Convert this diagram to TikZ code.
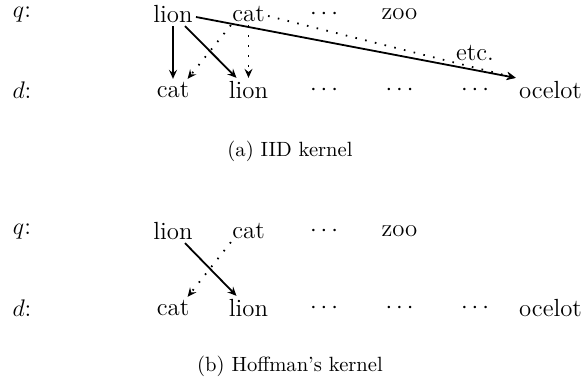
\documentclass[tikz,border=0pt]{standalone}
\usetikzlibrary{arrows.meta}
\begin{document}
\begin{tikzpicture}[x=0.5pt,y=-0.5pt,
  word/.style={font=\fontsize{12.4}{15}\selectfont, inner sep=1.5pt},
  captext/.style={font=\fontsize{10.3}{12}\selectfont, inner sep=1.5pt},
  tipstyle/.style={-{Stealth[length=4.5pt,width=4pt,inset=1.6pt]}},
  solidarrow/.style={line width=0.9pt,tipstyle},
  dotarrow/.style={line width=0.9pt,dash pattern=on 0.8pt off 4.2pt,tipstyle}]
\useasboundingbox (0,0) rectangle (587,383);
% ---------- (a) IID kernel ----------
\node[word] (q1) at (22,14) {$q$:};
\node[word] (d1) at (22,90) {$d$:};
\node[word] (lq1) at (173,14) {lion};
\node[word] (cq1) at (248.5,14) {cat};
\node[word] (eq1) at (324,14) {$\cdots$};
\node[word] (zq1) at (399.5,14) {zoo};
\node[word] (cd1) at (173,90) {cat};
\node[word] (ld1) at (248.5,90) {lion};
\node[word] (ea1) at (324,90) {$\cdots$};
\node[word] (eb1) at (399.5,90) {$\cdots$};
\node[word] (ec1) at (475,90) {$\cdots$};
\node[word] (od1) at (550.5,90) {ocelot};
\node[word] (etc) at (475,53) {etc.};
\node[captext] (capa) at (290,151) {(a) IID kernel};
\draw[solidarrow] (lq1.south) -- (cd1.north);
\draw[solidarrow] ([xshift=6pt]lq1.south) -- ([xshift=-6pt]ld1.north);
\draw[solidarrow] ([yshift=-1.5pt]lq1.east) -- (od1.north west);
\draw[dotarrow] ([xshift=1pt]cq1.south west) -- ([xshift=-2.5pt]cd1.north east);
\draw[dotarrow] (cq1.south) -- (ld1.north);
\draw[dotarrow] ([yshift=-1pt]cq1.east) -- (od1.north west);
% ---------- (b) Hoffman's kernel ----------
\node[word] (q2) at (22,231) {$q$:};
\node[word] (d2) at (22,308) {$d$:};
\node[word] (lq2) at (173,231) {lion};
\node[word] (cq2) at (248.5,231) {cat};
\node[word] (eq2) at (324,231) {$\cdots$};
\node[word] (zq2) at (399.5,231) {zoo};
\node[word] (cd2) at (173,308) {cat};
\node[word] (ld2) at (248.5,308) {lion};
\node[word] (ea2) at (324,308) {$\cdots$};
\node[word] (eb2) at (399.5,308) {$\cdots$};
\node[word] (ec2) at (475,308) {$\cdots$};
\node[word] (od2) at (550.5,308) {ocelot};
\node[captext] (capb) at (290,366) {(b) Hoffman's kernel};
\draw[solidarrow] ([xshift=6pt]lq2.south) -- ([xshift=-6pt]ld2.north);
\draw[dotarrow] ([xshift=1pt]cq2.south west) -- ([xshift=-2.5pt]cd2.north east);
\end{tikzpicture}
\end{document}
